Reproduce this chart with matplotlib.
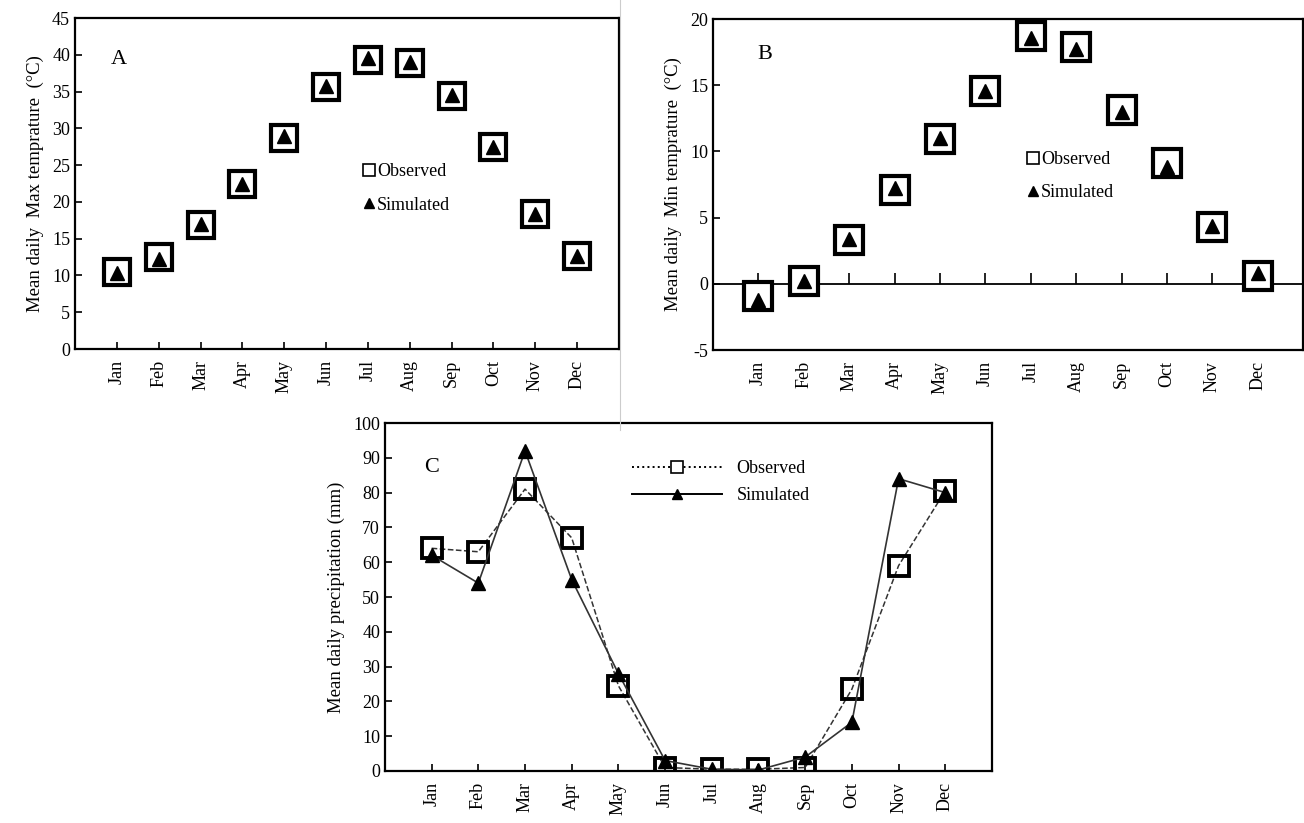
import numpy as np
import matplotlib.pyplot as plt
from matplotlib.lines import Line2D

months = ["Jan", "Feb", "Mar", "Apr", "May", "Jun", "Jul", "Aug", "Sep", "Oct", "Nov", "Dec"]

# A: mean daily max temperature
tmax_obs = [10.5, 12.5, 16.8, 22.4, 28.7, 35.6, 39.3, 38.9, 34.4, 27.4, 18.4, 12.6]
tmax_sim = [10.3, 12.2, 17.0, 22.5, 29.0, 35.8, 39.5, 39.0, 34.5, 27.5, 18.3, 12.6]
# B: mean daily min temperature
tmin_obs = [-0.9, 0.2, 3.3, 7.1, 10.9, 14.6, 18.7, 17.9, 13.1, 9.1, 4.3, 0.6]
tmin_sim = [-1.2, 0.2, 3.4, 7.2, 11.0, 14.6, 18.6, 17.7, 13.0, 8.8, 4.4, 0.8]
# C: mean daily precipitation
prec_obs = [64, 63, 81, 67, 24.5, 1, 0.5, 0.5, 1, 23.5, 59, 80.5]
prec_sim = [62, 54, 92, 55, 28, 3, 0.5, 0.3, 4, 14, 84, 80]

plt.rcParams['font.family'] = ['Liberation Serif', 'DejaVu Serif']
plt.rcParams['font.size'] = 12
plt.rcParams['axes.unicode_minus'] = False

fig = plt.figure(figsize=(13.04, 8.23), dpi=100)
x = np.arange(1, 13)


def style(ax, ylim, yticks, ylabel, letter, lx, ly):
    ax.set_xlim(0, 13)
    ax.set_ylim(*ylim)
    ax.set_yticks(yticks)
    ax.set_xticks(x)
    ax.set_xticklabels(months, rotation=90)
    ax.tick_params(direction='in', length=5, width=1.2, labelsize=13)
    ax.tick_params(axis='x', pad=8)
    for s in ax.spines.values():
        s.set_linewidth(1.6)
    ax.set_ylabel(ylabel, fontsize=13.5, labelpad=6)
    ax.text(lx, ly, letter, transform=ax.transAxes, fontsize=16)


# panel A
axA = fig.add_axes([0.0575, 0.5759, 0.4172, 0.4022])
axA.plot(x, tmax_obs, ls='none', marker='s', ms=19, mfc='white', mec='black', mew=3, label='Observed')
axA.plot(x, tmax_sim, ls='none', marker='^', ms=10, color='black', label='Simulated')
style(axA, (0, 45), range(0, 46, 5), "Mean daily  Max temprature  (°C)", "A", 0.065, 0.86)
hA = [Line2D([], [], ls='none', marker='s', ms=8, mfc='white', mec='black', mew=1.2),
      Line2D([], [], ls='none', marker='^', ms=7, color='black')]
axA.legend(hA, ['Observed', 'Simulated'], loc='upper left', bbox_to_anchor=(0.5, 0.61),
           frameon=False, handlelength=0.6, handletextpad=0.15, labelspacing=0.9, fontsize=13)

# panel B
axB = fig.add_axes([0.5468, 0.5747, 0.4525, 0.4022])
axB.axhline(0, color='black', lw=1.3)
axB.plot(x, np.zeros(len(x)), ls='none', marker=2, ms=8, mew=1.2, color='black')
axB.plot(x, tmin_obs, ls='none', marker='s', ms=20, mfc='white', mec='black', mew=3, label='Observed')
axB.plot(x, tmin_sim, ls='none', marker='^', ms=10, color='black', label='Simulated')
style(axB, (-5, 20), range(-5, 21, 5), "Mean daily  Min temprature  (°C)", "B", 0.075, 0.88)
axB.tick_params(axis='x', length=0)
hB = [Line2D([], [], ls='none', marker='s', ms=8, mfc='white', mec='black', mew=1.2),
      Line2D([], [], ls='none', marker='^', ms=7, color='black')]
axB.legend(hB, ['Observed', 'Simulated'], loc='upper left', bbox_to_anchor=(0.505, 0.65),
           frameon=False, handlelength=0.6, handletextpad=0.15, labelspacing=0.9, fontsize=13)

# panel C
axC = fig.add_axes([0.2952, 0.0632, 0.4655, 0.4228])
axC.plot(x, prec_obs, ls='--', lw=1.1, color='#333333', marker='s', ms=14, mfc='none',
         mec='black', mew=2.8, label='Observed')
axC.plot(x, prec_sim, ls='-', lw=1.2, color='#333333', marker='^', ms=10, mfc='black',
         mec='black', label='Simulated')
style(axC, (0, 100), range(0, 101, 10), "Mean daily precipitation (mm)", "C", 0.065, 0.86)
hC = [Line2D([], [], ls=':', lw=1.4, color='black', marker='s', ms=8, mfc='white', mec='black', mew=1.2),
      Line2D([], [], ls='-', lw=1.4, color='black', marker='^', ms=7)]
axC.legend(hC, ['Observed', 'Simulated'], loc='upper left', bbox_to_anchor=(0.38, 0.94),
           frameon=False, handlelength=5.0, handletextpad=0.8, labelspacing=0.55, fontsize=13)

# divider between the two upper panels
fig.add_artist(Line2D([620 / 1304, 620 / 1304], [1.0, 1 - 430 / 823], color='#cccccc', lw=0.8))

fig.savefig("out.png", dpi=100)
